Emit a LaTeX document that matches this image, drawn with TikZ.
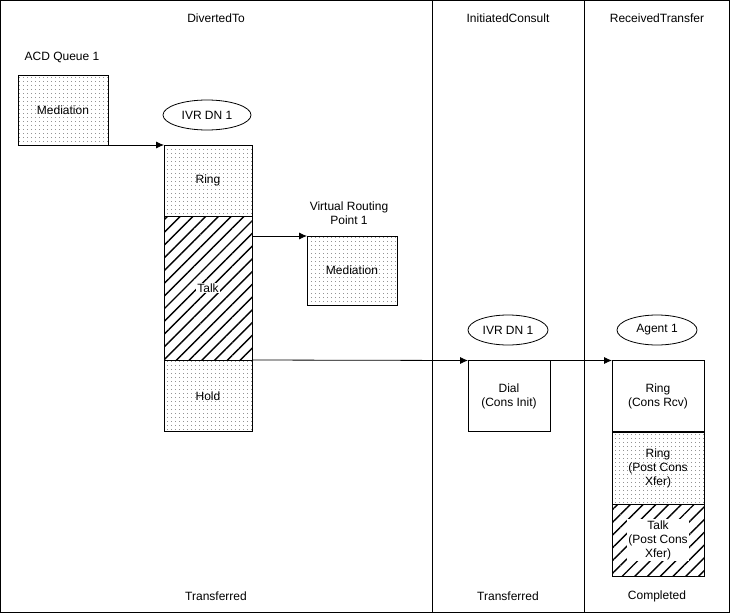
\documentclass[tikz,border=0pt]{standalone}
\usepackage{fontspec}
\setmainfont{Liberation Sans}
\usetikzlibrary{patterns.meta, positioning, arrows.meta, shapes.geometric}
\begin{document}
\begin{tikzpicture}[x=1pt, y=-1pt, font=\fontsize{12}{14}\selectfont, line width=0.8pt,
  every node/.style={align=center, inner sep=0pt, outer sep=0pt},
  box/.style={draw, minimum width=88pt, minimum height=71pt},
  dotted box/.style={box, pattern={Dots[distance=4pt, radius=0.45pt]}},
  hatched box/.style={box, pattern={Lines[angle=45, distance=9pt, line width=1.4pt]}},
  party/.style={draw, ellipse, minimum width=88pt, minimum height=30pt},
  flow/.style={-{Latex[length=8pt,width=7pt]}}]
  \useasboundingbox (0,0) rectangle (730,613);
  \draw (0.5,0.5) rectangle (729.5,612.5);
  \draw (432,0.5) -- (432,612.5);
  \draw (584,0.5) -- (584,612.5);

  % column titles
  \node (head1) at (216,18) {DivertedTo};
  \node (head2) at (508,18) {InitiatedConsult};
  \node (head3) at (657,18) {ReceivedTransfer};
  \node (foot1) at (216,596) {Transferred};
  \node (foot2) at (508,596) {Transferred};
  \node (foot3) at (657,596) {Completed};

  % first column
  \node (acd) at (62,57) {ACD Queue 1};
  \node[dotted box, minimum width=90pt, minimum height=70pt] (acdmed) at (63,110) {};
  \node at (acdmed) {Mediation};
  \node[party] (ivr1) at (207,115) {IVR DN 1};
  \node[dotted box] (ring) at (208,180.5) {};
  \node at (ring) {Ring};
  \node[hatched box, minimum height=144pt] (talk) at (208,288) {};
  \node[fill=white, inner sep=1pt] at (talk) {Talk};
  \node[dotted box] (hold) at (208,396) {};
  \node at (hold) {Hold};
  \node (vrp) at (349,213) {Virtual Routing\\Point 1};
  \node[dotted box, minimum width=90pt, minimum height=69pt] (vrpmed) at (352,270.5) {};
  \node at (vrpmed) {Mediation};

  % second column
  \node[party, minimum width=80pt] (ivr2) at (508,330) {IVR DN 1};
  \node[box, minimum width=82pt] (dial) at (509,396) {Dial\\(Cons Init)};

  % third column
  \node[party, minimum width=80pt] (agent) at (657,330) {Agent 1};
  \node[box, minimum width=92pt] (rcv) at (658,396) {Ring\\(Cons Rcv)};
  \node[dotted box, minimum width=92pt, minimum height=72pt] (pring) at (658,468) {};
  \node at (pring) {Ring\\(Post Cons\\Xfer)};
  \node[hatched box, minimum width=92pt, minimum height=72pt] (ptalk) at (658,540) {};
  \node[fill=white, inner sep=1pt] at (ptalk) {Talk\\(Post Cons\\Xfer)};

  % transfers
  \draw[flow] (acdmed.south east) -- (ring.north west);
  \draw[flow] (talk.east |- vrpmed.north) -- (vrpmed.north west);
  \draw[flow] (talk.south east) -- (dial.north west);
  \draw[flow] (dial.north east) -- (rcv.north west);
\end{tikzpicture}
\end{document}
